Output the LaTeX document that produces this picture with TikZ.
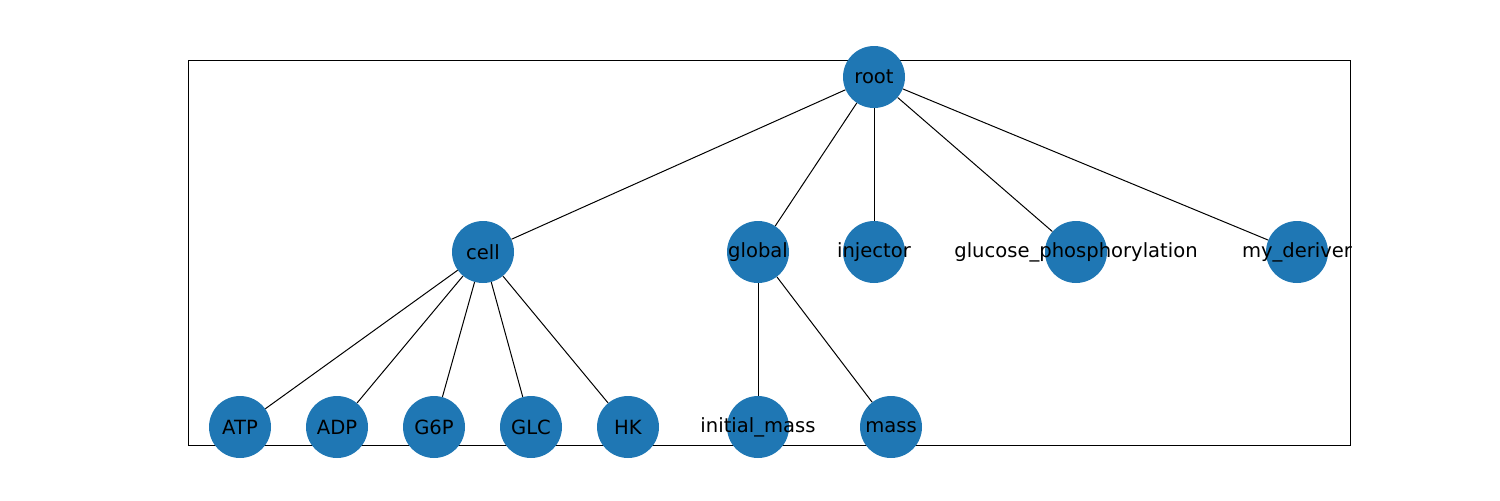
\documentclass[tikz,border=0pt]{standalone}
\usepackage{fontspec}
\setmainfont{DejaVu Sans}
\definecolor{nodeblue}{HTML}{1F77B4}
\tikzset{
  vert/.style={circle, fill=nodeblue, minimum size=1.86cm, inner sep=0pt,
    label={[font=\fontsize{16.7}{20}\selectfont, text=black]center:#1}},
  edge/.style={line width=0.85pt, black}
}
\begin{document}
\begin{tikzpicture}[x=0.03cm, y=-0.03cm]
\useasboundingbox (0,0) rectangle (1500,500);
\draw[line width=0.85pt] (188,60) rectangle (1350,445);
\node[vert=root] (root) at (874,77) {};
\node[vert=cell] (cell) at (483,252) {};
\node[vert=global] (glob) at (758,252) {};
\node[vert=injector] (inj) at (874,252) {};
\node[vert=glucose\_phosphorylation] (gp) at (1076,252) {};
\node[vert=my\_deriver] (md) at (1297,252) {};
\node[vert=ATP] (atp) at (240,427) {};
\node[vert=ADP] (adp) at (337,427) {};
\node[vert=G6P] (g6p) at (434,427) {};
\node[vert=GLC] (glc) at (531,427) {};
\node[vert=HK] (hk) at (628,427) {};
\node[vert=initial\_mass] (im) at (758,427) {};
\node[vert=mass] (mass) at (891,427) {};
\begin{scope}[on background layer/.try]
\draw[edge] (root) -- (cell);
\draw[edge] (root) -- (glob);
\draw[edge] (root) -- (inj);
\draw[edge] (root) -- (gp);
\draw[edge] (root) -- (md);
\draw[edge] (cell) -- (atp);
\draw[edge] (cell) -- (adp);
\draw[edge] (cell) -- (g6p);
\draw[edge] (cell) -- (glc);
\draw[edge] (cell) -- (hk);
\draw[edge] (glob) -- (im);
\draw[edge] (glob) -- (mass);
\end{scope}
\end{tikzpicture}
\end{document}
